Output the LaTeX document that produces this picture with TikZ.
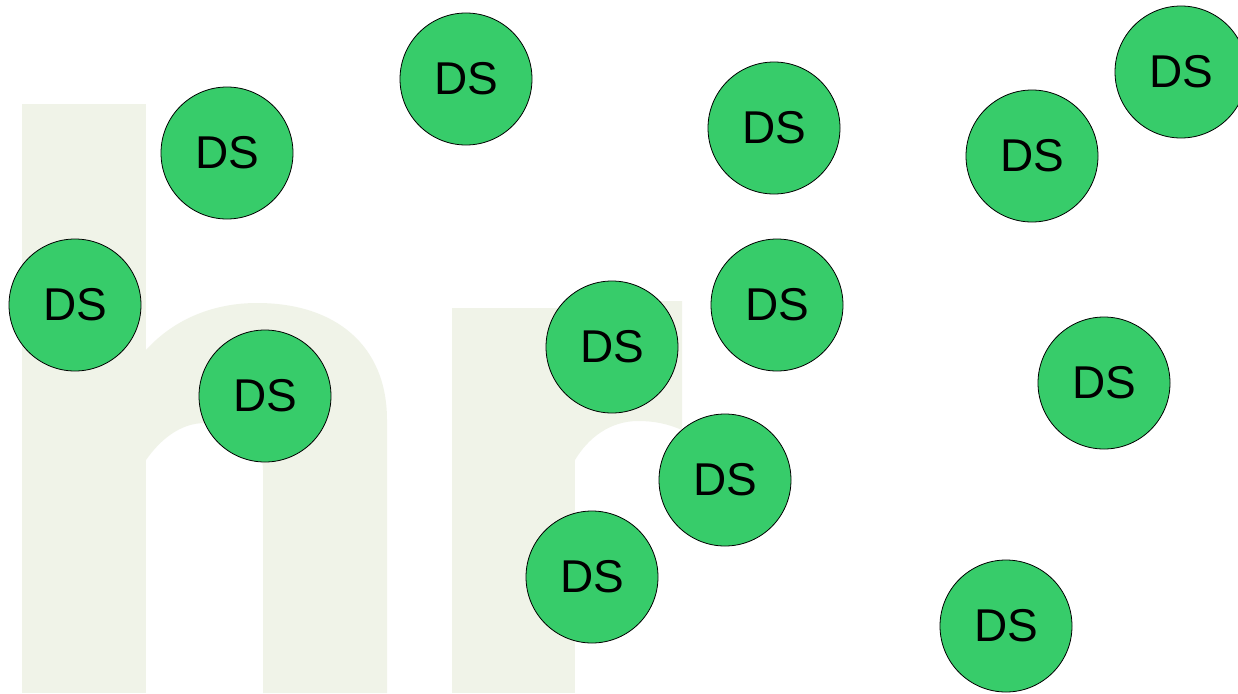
\documentclass[tikz,border=0pt]{standalone}
\usepackage{fontspec}
\setmainfont{Liberation Sans}
\definecolor{bgletter}{RGB}{240,243,232}
\definecolor{dsgreen}{RGB}{55,204,106}
\tikzset{
  ds/.style={circle, draw=black, line width=0.8pt, fill=dsgreen, minimum size=132pt, inner sep=0pt,
    font=\fontsize{46}{46}\selectfont, text=black},
  letter/.style={fill=bgletter, draw=none}
}
\begin{document}
\begin{tikzpicture}[x=1pt,y=-1pt]
\useasboundingbox (0,0) rectangle (1238,693);
\clip (0,0) rectangle (1238,693);
\fill[white] (0,0) rectangle (1238,693);
% background letter h
\fill[letter] (22,104) rectangle (146,693);
\fill[letter] (146,350) .. controls (175,318) and (215,303) .. (257,303)
  .. controls (335,303) and (387,345) .. (387,420) -- (387,693) -- (263,693) -- (263,470)
  .. controls (263,440) and (235,423) .. (205,423)
  .. controls (180,423) and (160,440) .. (146,460) -- cycle;
% background letter r
\fill[letter] (452,308) rectangle (575,693);
\fill[letter] (575,301) -- (682,301) -- (682,430)
  .. controls (668,424) and (655,421) .. (638,421)
  .. controls (610,421) and (588,438) .. (575,460) -- cycle;
% circles
\node[ds] (n1) at (466,79) {DS};
\node[ds] (n2) at (227,153) {DS};
\node[ds] (n3) at (75,305) {DS};
\node[ds] (n4) at (265,396) {DS};
\node[ds] (n5) at (774,128) {DS};
\node[ds] (n6) at (1032,156) {DS};
\node[ds] (n7) at (1181,72) {DS};
\node[ds] (n8) at (777,305) {DS};
\node[ds] (n9) at (612,347) {DS};
\node[ds] (n10) at (725,480) {DS};
\node[ds] (n11) at (592,577) {DS};
\node[ds] (n12) at (1104,383) {DS};
\node[ds] (n13) at (1006,626) {DS};
\end{tikzpicture}
\end{document}
